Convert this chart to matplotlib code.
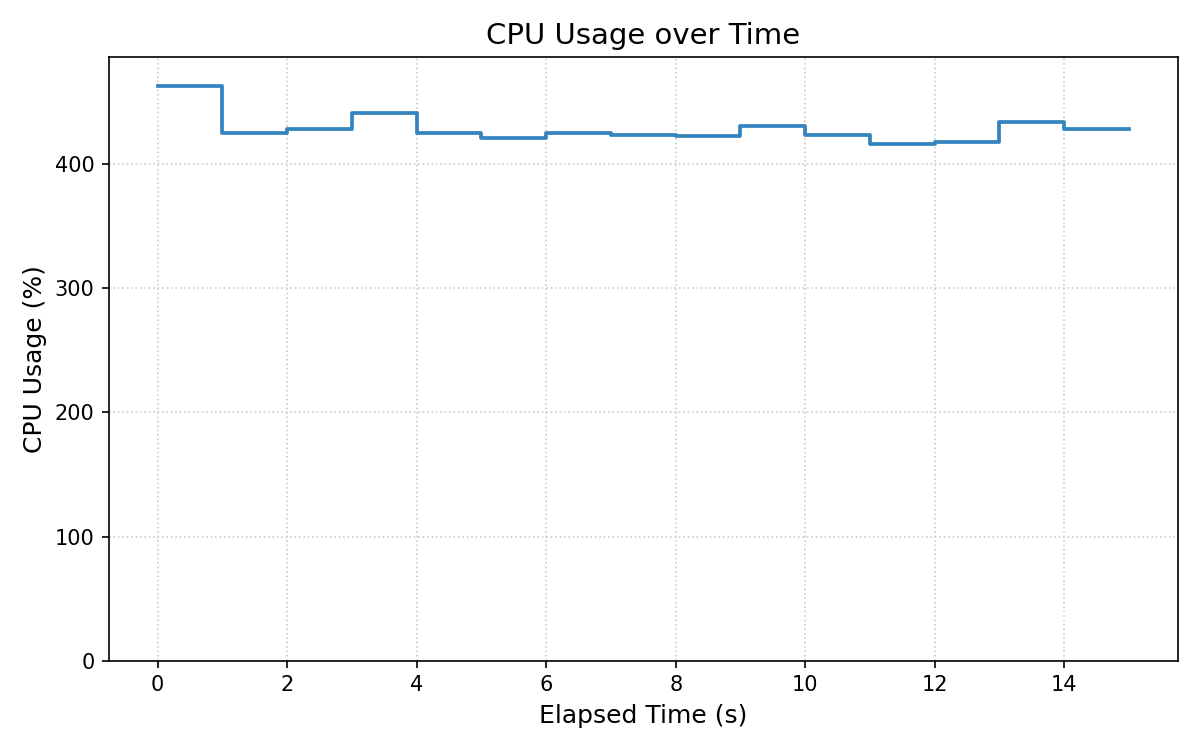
import matplotlib
matplotlib.use("Agg")
import matplotlib.pyplot as plt

# ── Data ──────────────────────────────────────────────────────────────────────

elapsed_s = [0, 1, 2, 3, 4, 5, 6, 7, 8, 9, 10, 11, 12, 13, 14, 15]
cpu_pct   = [463.3, 425.3, 428.3, 441.5, 425.3, 421.3, 425.3, 423.7,
             422.9, 431.0, 424.0, 416.7, 418.3, 434.2, 428.5, 428.5]

# ── Plot ──────────────────────────────────────────────────────────────────────

fig, ax = plt.subplots(figsize=(8, 5), dpi=150)
ax.step(elapsed_s, cpu_pct, where='post', lw=1.8, color='#3484bf')
ax.set_ylim(0, max(cpu_pct) * 1.05)
ax.grid(True, linestyle=':', color='#cccccc', lw=0.8)
ax.set_xlabel("Elapsed Time (s)", fontsize=12)
ax.set_ylabel("CPU Usage (%)", fontsize=12)
ax.set_title("CPU Usage over Time", fontsize=14)
fig.tight_layout()
fig.savefig("out.png", dpi=150)
